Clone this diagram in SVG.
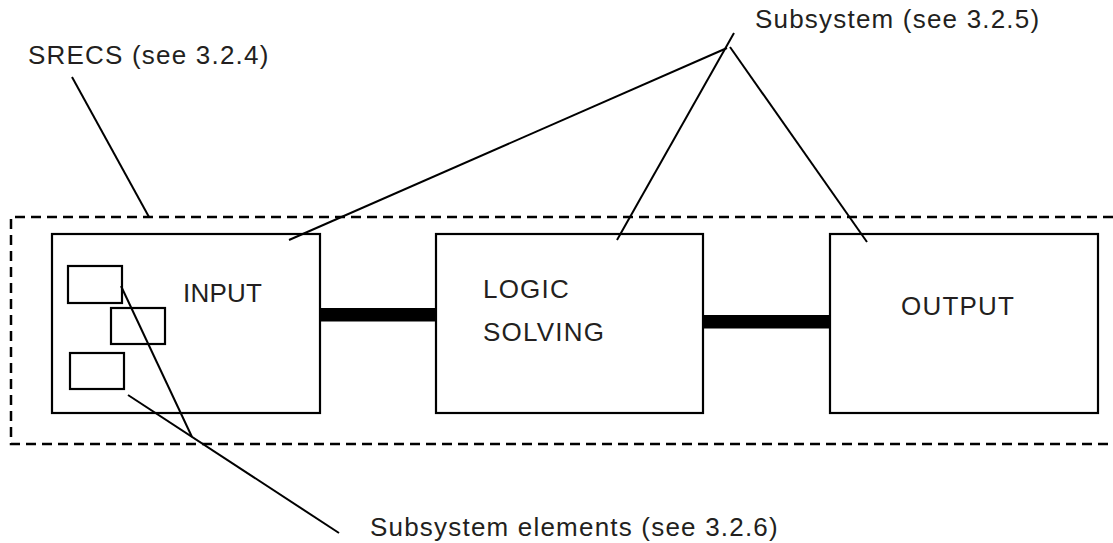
<svg xmlns="http://www.w3.org/2000/svg" width="1113" height="543" viewBox="0 0 1113 543">
<style>
  .box{fill:#fff;stroke:#000;stroke-width:2.2}
  .small{fill:none;stroke:#000;stroke-width:2.2}
  .lead{fill:none;stroke:#000;stroke-width:2}
  .bar{fill:#000}
  .dash{fill:none;stroke:#000;stroke-width:2.5;stroke-dasharray:10 6}
  text{font-family:"Liberation Sans",Arial,sans-serif;font-size:26px;fill:#231f20;letter-spacing:1.2px}
</style>
<rect width="1113" height="543" fill="#fff"/>
<g id="srecs">
  <path class="dash" d="M1113,217 H11 V444 H1113"/>
</g>
<g id="connectors">
  <rect class="bar" x="320" y="308" width="116" height="13.5"/>
  <rect class="bar" x="698" y="315" width="139" height="13.5"/>
</g>
<g id="input">
  <rect class="box" x="52" y="234" width="268" height="179"/>
  <rect class="small" x="68" y="266" width="54" height="37"/>
  <rect class="small" x="111" y="308" width="54" height="36"/>
  <rect class="small" x="70" y="353" width="54" height="36"/>
  <text x="183" y="302" style="letter-spacing:0.2px">INPUT</text>
</g>
<g id="logic">
  <rect class="box" x="436" y="234" width="267" height="179"/>
  <text x="483" y="298">LOGIC</text>
  <text x="483" y="341">SOLVING</text>
</g>
<g id="output">
  <rect class="box" x="830" y="234" width="268" height="179"/>
  <text x="901" y="315">OUTPUT</text>
</g>
<g id="labels">
  <path class="lead" d="M72,77 L149,217"/>
  <path class="lead" d="M734,33 L617,240"/>
  <path class="lead" d="M727,48 L289,240"/>
  <path class="lead" d="M730,47 L867,242"/>
  <path class="lead" d="M121,286 L192,437"/>
  <path class="lead" d="M128,395 L339,533"/>
  <text x="28" y="64">SRECS (see 3.2.4)</text>
  <text x="755" y="28">Subsystem (see 3.2.5)</text>
  <text x="370" y="536">Subsystem elements (see 3.2.6)</text>
</g>
</svg>
